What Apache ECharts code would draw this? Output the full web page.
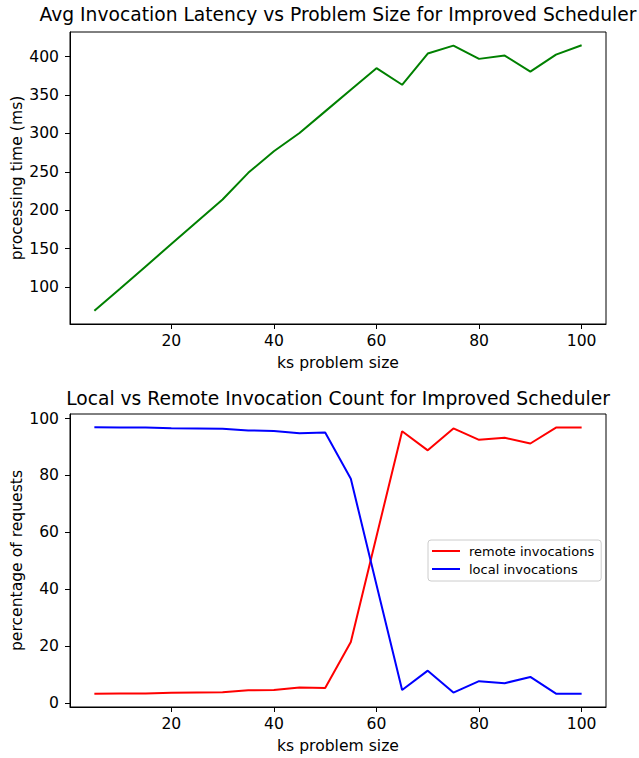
<!DOCTYPE html>
<html>
<head>
<meta charset="utf-8">
<script src="https://cdn.jsdelivr.net/npm/echarts@6/dist/echarts.min.js"></script>
<style>
  html, body { margin: 0; padding: 0; background: #fff; }
  #canvas { width: 639px; height: 758px; }
</style>
</head>
<body>
<div id="canvas"></div>
<script>
var sizes = [5, 10, 15, 20, 25, 30, 35, 40, 45, 50, 55, 60, 65, 70, 75, 80, 85, 90, 95, 100];
var latency = [69.3, 98, 127, 156, 185, 214, 248.7, 276.8, 300.6, 328.7, 356.8, 384.9, 363.3, 403.9, 414.3, 397, 401.3, 380.5, 402.6, 414.7];
var remote = [3.2, 3.3, 3.3, 3.5, 3.6, 3.7, 4.4, 4.5, 5.4, 5.2, 21.4, 58.5, 95.5, 88.8, 96.5, 92.5, 93.2, 91.2, 96.8, 96.8];
var local = [96.9, 96.8, 96.8, 96.6, 96.5, 96.4, 95.8, 95.6, 94.8, 95.1, 78.8, 41.5, 4.5, 11.3, 3.6, 7.6, 6.9, 9.1, 3.2, 3.2];
var xTicks = [20, 40, 60, 80, 100];
var latencyTicks = [100, 150, 200, 250, 300, 350, 400];
var pctTicks = [0, 20, 40, 60, 80, 100];

var font = 'DejaVu Sans';
var labelSize = 15.6;
var titleSize = 18.7;

var pairs = function(xs, ys) {
    var out = [];
    for (var i = 0; i < xs.length; i++) out.push([xs[i], ys[i]]);
    return out;
}

// matplotlib style margins: 5% of the data range on each side
var padded = function(vals) {
    var lo = Math.min.apply(null, vals), hi = Math.max.apply(null, vals);
    var m = (hi - lo) * 0.05;
    return [lo - m, hi + m];
}

var xRange = padded(sizes);
var latRange = padded(latency);
var pctRange = padded(remote.concat(local));

var xAxisFor = function(idx) {
    return {
        type: 'value',
        gridIndex: idx,
        min: xRange[0],
        max: xRange[1],
        name: 'ks problem size',
        nameLocation: 'middle',
        nameGap: 31,
        nameMoveOverlap: false,
        nameTextStyle: {fontFamily: font, fontSize: labelSize, color: '#000'},
        splitLine: {show: false},
        axisLine: {show: true, onZero: false, lineStyle: {color: '#000', width: 1}},
        axisTick: {show: true, length: 5, lineStyle: {color: '#000', width: 1}, customValues: xTicks},
        axisLabel: {fontFamily: font, fontSize: labelSize, color: '#000', margin: 9, customValues: xTicks}
    };
}

var yAxisFor = function(idx, range, ticks, name) {
    return {
        type: 'value',
        gridIndex: idx,
        min: range[0],
        max: range[1],
        name: name,
        nameLocation: 'middle',
        nameGap: 45,
        nameMoveOverlap: false,
        nameTextStyle: {fontFamily: font, fontSize: labelSize, color: '#000'},
        splitLine: {show: false},
        axisLine: {show: true, onZero: false, lineStyle: {color: '#000', width: 1}},
        axisTick: {show: true, length: 5, lineStyle: {color: '#000', width: 1}, customValues: ticks},
        axisLabel: {fontFamily: font, fontSize: labelSize, color: '#000', margin: 11, customValues: ticks}
    };
}

var chart = echarts.init(document.getElementById('canvas'), null, {renderer: 'svg'});

var option = {
    animation: false,
    backgroundColor: '#fff',
    title: [
        {
            text: 'Avg Invocation Latency vs Problem Size for Improved Scheduler',
            left: 338, top: 5, textAlign: 'center', padding: 0,
            textStyle: {fontFamily: font, fontSize: titleSize, fontWeight: 'normal', color: '#000'}
        },
        {
            text: 'Local vs Remote Invocation Count for Improved Scheduler',
            left: 338, top: 389, textAlign: 'center', padding: 0,
            textStyle: {fontFamily: font, fontSize: titleSize, fontWeight: 'normal', color: '#000'}
        }
    ],
    grid: [
        {left: 70, top: 32, width: 536, height: 292, outerBoundsMode: 'none', containLabel: false,
            show: true, borderColor: '#000', borderWidth: 1, backgroundColor: 'transparent'},
        {left: 70, top: 414, width: 536, height: 293, outerBoundsMode: 'none', containLabel: false,
            show: true, borderColor: '#000', borderWidth: 1, backgroundColor: 'transparent'}
    ],
    xAxis: [xAxisFor(0), xAxisFor(1)],
    yAxis: [
        yAxisFor(0, latRange, latencyTicks, 'processing time (ms)'),
        yAxisFor(1, pctRange, pctTicks, 'percentage of requests')
    ],
    legend: {
        data: ['remote invocations', 'local invocations'],
        orient: 'vertical',
        left: 428,
        top: 540,
        padding: [4, 7, 5, 4],
        itemGap: 4,
        itemWidth: 28,
        itemHeight: 2,
        icon: 'rect',
        backgroundColor: 'rgba(255,255,255,0.8)',
        borderColor: '#ccc',
        borderWidth: 1,
        borderRadius: 3,
        textStyle: {fontFamily: font, fontSize: 13, lineHeight: 14, color: '#000', padding: [0, 0, 0, 4]}
    },
    series: [
        {
            name: 'latency',
            type: 'line',
            xAxisIndex: 0, yAxisIndex: 0,
            data: pairs(sizes, latency),
            showSymbol: false,
            itemStyle: {color: '#008000'},
            lineStyle: {color: '#008000', width: 2}
        },
        {
            name: 'remote invocations',
            type: 'line',
            xAxisIndex: 1, yAxisIndex: 1,
            data: pairs(sizes, remote),
            showSymbol: false,
            itemStyle: {color: '#ff0000'},
            lineStyle: {color: '#ff0000', width: 2}
        },
        {
            name: 'local invocations',
            type: 'line',
            xAxisIndex: 1, yAxisIndex: 1,
            data: pairs(sizes, local),
            showSymbol: false,
            itemStyle: {color: '#0000ff'},
            lineStyle: {color: '#0000ff', width: 2}
        }
    ]
};
chart.setOption(option);
</script>
</body>
</html>
